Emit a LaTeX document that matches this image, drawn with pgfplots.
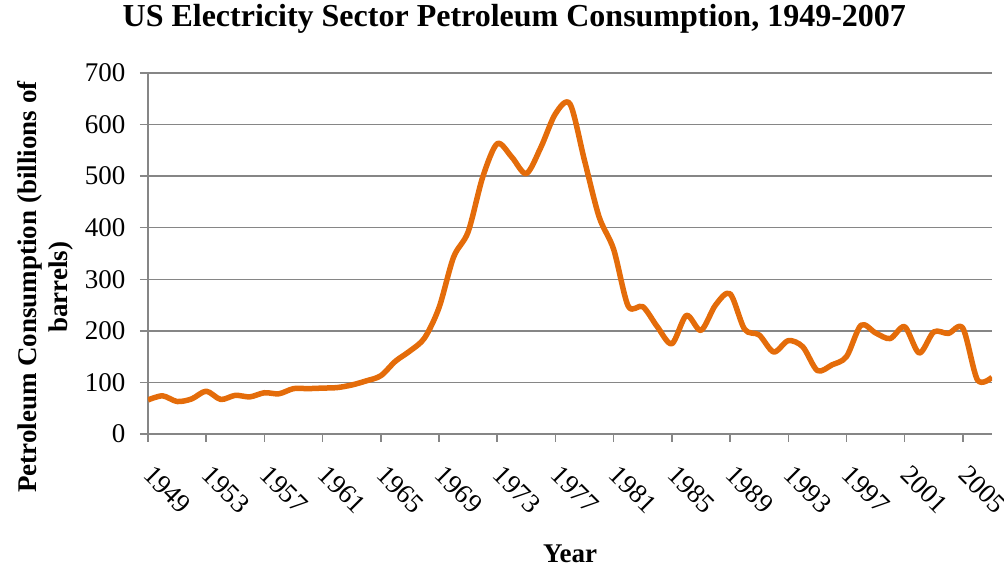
\documentclass[border=0pt]{standalone}
\usepackage{pgfplots}
\pgfplotsset{compat=1.18}
\usepackage{fontspec}
\setmainfont{Liberation Serif}
\definecolor{lineorange}{RGB}{228,108,10}
\definecolor{gridgray}{RGB}{134,134,134}
\begin{document}
\begin{tikzpicture}
\useasboundingbox (-148pt,-135pt) rectangle (856pt,434pt);
\begin{axis}[
  at={(0,0)}, anchor=south west,
  scale only axis, width=844pt, height=361pt,
  xmin=1949, xmax=2007, ymin=0, ymax=700,
  xtick={1949,1953,...,2005},
  ytick={0,100,...,700},
  axis lines*=left,
  tick align=outside,
  major tick length=8pt,
  every tick/.style={gridgray, line width=1.5pt},
  axis line style={gridgray, line width=1.5pt},
  ymajorgrids,
  grid style={gridgray, line width=1.5pt},
  /pgf/number format/assume math mode=true,
  /pgf/number format/1000 sep={},
  ticklabel style={font=\fontsize{27}{32}\selectfont},
  yticklabel style={xshift=-11pt},
  xticklabel style={xshift=7pt, yshift=-17pt, rotate=-45, anchor=north west},
  title={US Electricity Sector Petroleum Consumption, 1949-2007},
  title style={at={(axis description cs:0.434,1.111)}, anchor=base, font=\fontsize{32}{38}\selectfont\bfseries},
  xlabel={Year},
  xlabel style={at={(axis description cs:0.5,-0.357)}, anchor=base, font=\fontsize{27}{31}\selectfont\bfseries},
  ylabel={Petroleum Consumption (billions of\\barrels)},
  ylabel style={at={(axis description cs:-0.122,0.407)}, anchor=center, rotate=0, align=center, font=\fontsize{27}{31}\selectfont\bfseries},
]
\addplot[lineorange, line width=5.5pt, smooth, line join=round] coordinates {
(1949,66) (1950,74) (1951,63) (1952,68) (1953,83) (1954,67) (1955,75) (1956,72)
(1957,80) (1958,78) (1959,88) (1960,88) (1961,89) (1962,90) (1963,95) (1964,103)
(1965,113) (1966,141) (1967,161) (1968,186) (1969,245) (1970,343) (1971,392)
(1972,498) (1973,563) (1974,537) (1975,505) (1976,556) (1977,621) (1978,640)
(1979,530) (1980,421) (1981,358) (1982,248) (1983,247) (1984,208) (1985,175)
(1986,230) (1987,201) (1988,250) (1989,272) (1990,203) (1991,192) (1992,159)
(1993,181) (1994,169) (1995,123) (1996,134) (1997,150) (1998,211) (1999,196)
(2000,185) (2001,208) (2002,157) (2003,198) (2004,195) (2005,205) (2006,105)
(2007,110)
};
\end{axis}
\end{tikzpicture}
\end{document}
